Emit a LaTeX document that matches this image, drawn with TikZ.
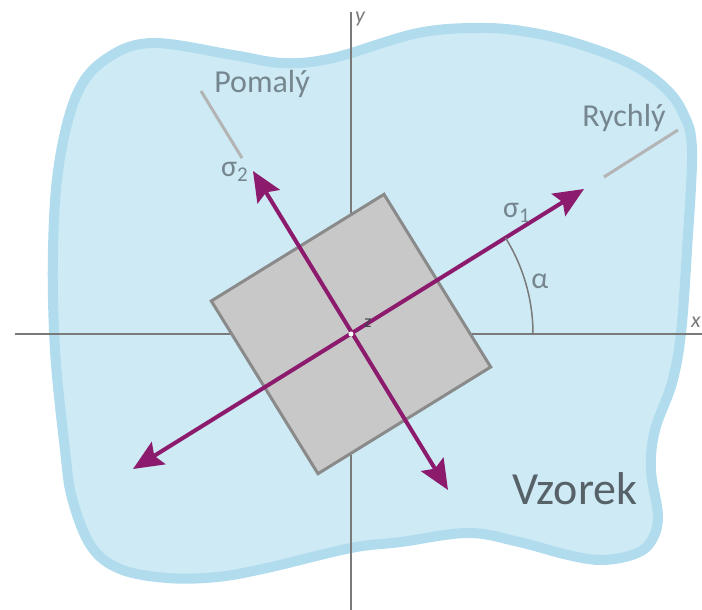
\documentclass[tikz,border=0pt]{standalone}
\usepackage{fontspec}
\setmainfont{Carlito}
\usetikzlibrary{arrows.meta}
\definecolor{blobfill}{HTML}{CDEAF5}
\definecolor{blobedge}{HTML}{B0DCEE}
\definecolor{axisgray}{HTML}{7A7A7A}
\definecolor{labelgray}{HTML}{76868F}
\definecolor{darklabel}{HTML}{566168}
\definecolor{stresscol}{HTML}{8C1B6E}
\definecolor{samplefill}{HTML}{C8C8C8}
\definecolor{sampleedge}{HTML}{8A8A8A}
\definecolor{leadgray}{HTML}{B4B4B4}
\begin{document}
\begin{tikzpicture}[x=0.5pt, y=0.5pt, >={Stealth[length=15pt,width=13pt,inset=2.5pt]},
  axis/.style={draw=axisgray, line width=0.75pt},
  stress/.style={<->, draw=stresscol, fill=stresscol, line width=2pt},
  leader/.style={draw=leadgray, line width=1.5pt},
  samplebox/.style={draw=sampleedge, fill=samplefill, line width=1.5pt},
  lbl/.style={text=labelgray, inner sep=0pt, font=\fontsize{15}{17}\selectfont}]
  \useasboundingbox (-351,-276) rectangle (351,334);

  \draw[draw=blobedge, fill=blobfill, line width=5pt] plot[smooth cycle, tension=0.6] coordinates {
    (-199,291) (-118,279) (-68,271) (-18,276) (67,301) (133,306) (183,301)
    (231,289) (280,270) (313,247) (332,221) (341,184) (336,84) (330,1)
    (321,-49) (304,-96) (300,-136) (307,-183) (299,-209) (281,-221)
    (250,-226) (217,-221) (168,-208) (117,-199) (50,-208) (0,-214)
    (-84,-234) (-134,-243) (-184,-244) (-231,-235) (-260,-212) (-279,-164)
    (-286,-116) (-296,-16) (-298,84) (-292,170) (-274,240) (-245,275)};

  \coordinate (xa) at (-336,0);
  \coordinate (xb) at (351,0);
  \coordinate (ya) at (0,-276);
  \coordinate (yb) at (0,322);
  \draw[axis] (xa) -- (xb);
  \draw[axis] (ya) -- (yb);
  \node[text=axisgray, anchor=east, inner sep=0pt, font=\fontsize{11}{13}\selectfont] (xlbl) at (350,12) {\itshape x};
  \node[text=axisgray, inner sep=0pt, font=\fontsize{11}{13}\selectfont] (ylbl) at (9,315) {\itshape y};

  \draw[samplebox, rotate=31.7] (-101.5,-101.5) rectangle (101.5,101.5);

  \coordinate (s1a) at (-218,-135);
  \coordinate (s1b) at (233,145);
  \coordinate (s2a) at (-98,163);
  \coordinate (s2b) at (97,-156);
  \draw[stress] (s1a) -- (s1b);
  \draw[stress] (s2a) -- (s2b);
  \fill[white] (0,0) circle (2.5);
  \node[text=darklabel!70!black, inner sep=0pt, font=\fontsize{9}{11}\selectfont] (zlbl) at (17,11) {z};

  \draw[axis] (182,0) arc[start angle=0, end angle=31.9, radius=182];
  \node[lbl] (alpha) at (189,53) {α};
  \node[lbl] (sig1) at (166,121) {σ\textsubscript{1}};
  \node[lbl] (sig2) at (-116,162) {σ\textsubscript{2}};

  \coordinate (pa) at (-150,243);
  \coordinate (pb) at (-109,176);
  \coordinate (ra) at (253,157);
  \coordinate (rb) at (327,204);
  \draw[leader] (pa) -- (pb);
  \draw[leader] (ra) -- (rb);
  \node[lbl, anchor=base, font=\fontsize{16}{18}\selectfont] (slow) at (-89,241) {Pomalý};
  \node[lbl, anchor=base, font=\fontsize{16}{18}\selectfont] (fast) at (273,207) {Rychlý};

  \node[text=darklabel, anchor=base, inner sep=0pt, font=\fontsize{23}{27}\selectfont] (sample) at (224,-171) {Vzorek};
\end{tikzpicture}
\end{document}
